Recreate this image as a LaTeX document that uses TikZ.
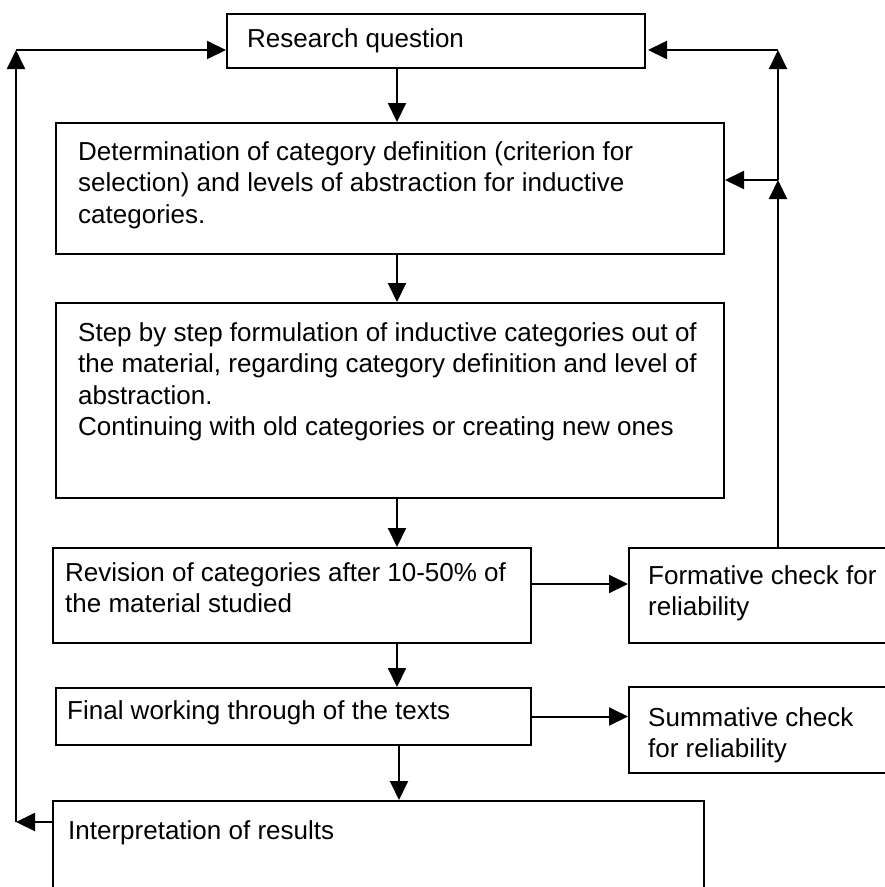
\documentclass[tikz,border=0pt]{standalone}
\usepackage{fontspec}
\setmainfont{Liberation Sans}
\usetikzlibrary{arrows.meta,calc}
\begin{document}
\begin{tikzpicture}[x=1pt,y=-1pt,
  box/.style={draw, line width=2pt, inner sep=0pt, anchor=north west},
  txt/.style={font=\fontsize{26}{31.5}\selectfont, align=left, inner sep=0pt, anchor=north west},
  arr/.style={line width=2pt, -{Triangle[length=19pt,width=18pt]}}]
\useasboundingbox (0,0) rectangle (885,887);
\clip (0,0) rectangle (885,887);
% boxes
\node[box, minimum width=418pt, minimum height=54pt]  (rq)     at (226,13)  {};
\node[box, minimum width=668pt, minimum height=131pt] (det)    at (55,122)  {};
\node[box, minimum width=668pt, minimum height=195pt] (step)   at (55,302)  {};
\node[box, minimum width=478pt, minimum height=95pt]  (rev)    at (52,547)  {};
\node[box, minimum width=267pt, minimum height=95pt]  (form)   at (628,547) {};
\node[box, minimum width=475pt, minimum height=57pt]  (final)  at (55,687)  {};
\node[box, minimum width=267pt, minimum height=86pt]  (summ)   at (628,686) {};
\node[box, minimum width=651pt, minimum height=100pt] (interp) at (52,800)  {};
% texts
\node[txt] (trq) at (247,28) {Research question};
\node[txt] (tdet) at (78,141) {Determination of category definition (criterion for\\selection) and levels of abstraction for inductive\\categories.};
\node[txt] (tstep) at (78,322) {Step by step formulation of inductive categories out of\\the material, regarding category definition and level of\\abstraction.\\Continuing with old categories or creating new ones};
\node[txt] (trev) at (65,562) {Revision of categories after 10-50\% of\\the material studied};
\node[txt] (tform) at (648,565) {Formative check for\\reliability};
\node[txt] (tfinal) at (67,700) {Final working through of the texts};
\node[txt] (tsumm) at (648,707) {Summative check\\for reliability};
\node[txt] (tinterp) at (68,820) {Interpretation of results};
% helper coordinates
\coordinate (cx) at (397,0);
\coordinate (cxb) at (399,0);
\coordinate (yf) at (0,584);
\coordinate (xr) at (778,0);
\coordinate (lb) at (16,822);
\coordinate (lt) at (16,50);
\coordinate (rm) at (778,180);
\coordinate (rt) at (778,50);
\coordinate (rqr) at (648,50);
% main flow
\draw[arr] (cx |- rq.south) -- (cx |- det.north);
\draw[arr] (cx |- det.south) -- (cx |- step.north);
\draw[arr] (cx |- step.south) -- (cx |- rev.north);
\draw[arr] (cx |- rev.south) -- (cx |- final.north);
\draw[arr] (cxb |- final.south) -- (cxb |- interp.north);
% side checks
\draw[arr] (rev.east |- yf) -- (form.west |- yf);
\draw[arr] (final.east) -- (summ.west |- final.east);
% left feedback loop
\draw[arr] (interp.west |- lb) -- (lb);
\draw[arr] (lb) -- (lt);
\draw[arr] (lt) -- (rq.west |- lt);
% right feedback loop
\draw[arr] (form.north -| xr) -- (rm);
\draw[arr] (rm) -- (det.east |- rm);
\draw[arr] (rm) -- (rt);
\draw[arr] (rt) -- (rqr);
\end{tikzpicture}
\end{document}
